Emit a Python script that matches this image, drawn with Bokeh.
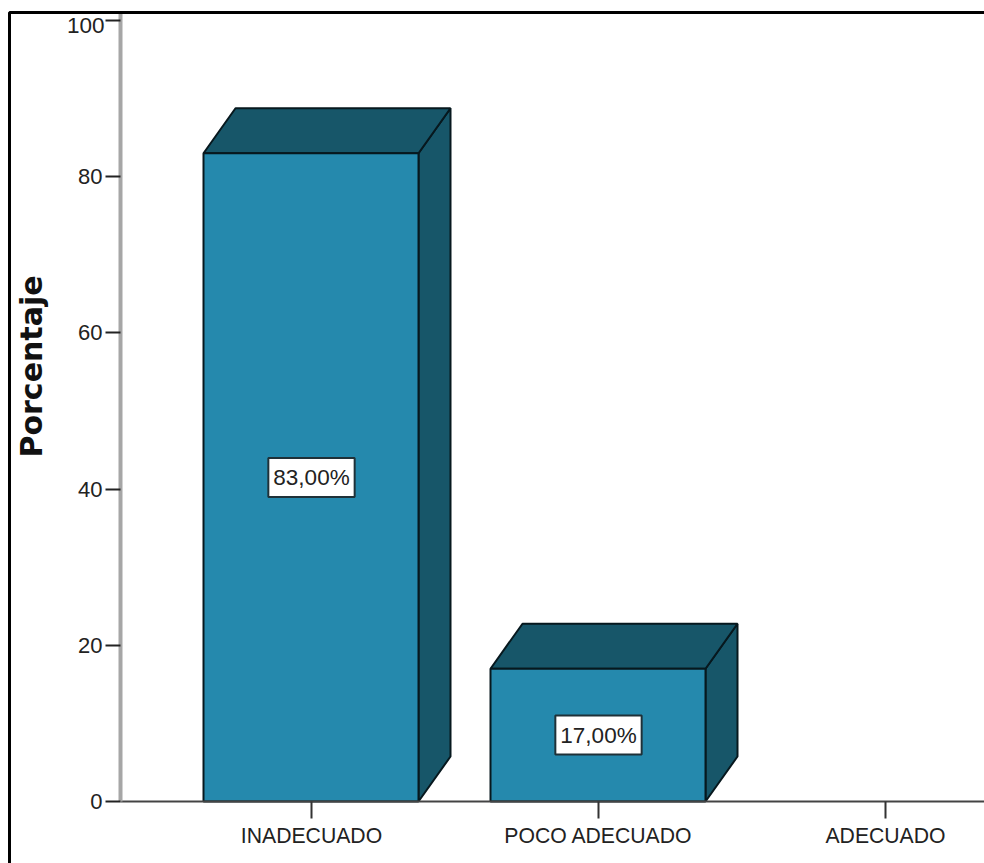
from math import pi

from bokeh.embed import file_html
from bokeh.models import BoxAnnotation, FixedTicker, Label, Range1d
from bokeh.plotting import figure
from bokeh.resources import INLINE
from bokeh.core.properties import value

categories = ["INADECUADO", "POCO ADECUADO", "ADECUADO"]
percentages = [83.0, 17.0, 0.0]
y_ticks = [0, 20, 40, 60, 80, 100]
bar_labels = ["83,00%", "17,00%", ""]

FRONT = "#2589ad"
SHADE = "#175669"
EDGE = "#07181e"
FONT = "Liberation Sans"

# The frame fills the canvas; these helpers turn canvas pixels into data values
WIDTH, HEIGHT = 984, 863
PX_PER_CAT = 287.0
PX_PER_PCT = 7.81
FIRST_CAT_PX = 311
BASELINE_PX = 801


def cx(px):
    return (px - FIRST_CAT_PX) / PX_PER_CAT


def cy(px):
    return (BASELINE_PX - px) / PX_PER_PCT


half_bar = 107.5 / PX_PER_CAT
bar_shift = -0.5 / PX_PER_CAT
depth_x = 32 / PX_PER_CAT
depth_y = 45 / PX_PER_PCT
axis_x = cx(120)

p = figure(
    width=WIDTH, height=HEIGHT, output_backend="svg", toolbar_location=None,
    x_range=Range1d(cx(0), cx(WIDTH)), y_range=Range1d(cy(HEIGHT), cy(0)),
    min_border_left=0, min_border_right=0, min_border_top=0, min_border_bottom=0,
    outline_line_color=None, background_fill_color="white", border_fill_color="white",
)
p.grid.visible = False

# Vertical axis: grey line with dark ticks; the top label sits just under the frame
p.yaxis.fixed_location = axis_x
p.yaxis.bounds = (0, cy(12))
p.yaxis.ticker = FixedTicker(ticks=y_ticks)
p.yaxis.major_label_overrides = {y_ticks[-1]: " "}
p.yaxis.axis_line_color = "#a6a6a6"
p.yaxis.axis_line_width = 4
p.yaxis.major_tick_line_color = "#222222"
p.yaxis.major_tick_line_width = 2
p.yaxis.major_tick_out = 15
p.yaxis.major_tick_in = 0
p.yaxis.minor_tick_line_color = None
p.yaxis.major_label_standoff = 3
p.yaxis.major_label_text_font = FONT
p.yaxis.major_label_text_font_size = "22px"
p.yaxis.major_label_text_color = "#222222"

p.add_layout(Label(
    x=axis_x, y=y_ticks[-1], text=str(y_ticks[-1]), x_offset=-16, y_offset=-5,
    text_align="right", text_baseline="middle",
    text_font=FONT, text_font_size="22.5px", text_color="#222222",
))
p.add_layout(Label(
    x=cx(31), y=cy(366), text="Porcentaje", angle=pi / 2,
    text_align="center", text_baseline="alphabetic",
    text_font="DejaVu Sans", text_font_style="bold", text_font_size="30px", text_color="#111111",
))

# Category axis
p.xaxis.fixed_location = 0
p.xaxis.bounds = (axis_x, cx(WIDTH))
p.xaxis.ticker = FixedTicker(ticks=list(range(len(categories))))
p.xaxis.major_label_overrides = {i: c for i, c in enumerate(categories)}
p.xaxis.axis_line_color = "#444444"
p.xaxis.axis_line_width = 2
p.xaxis.major_tick_line_color = "#333333"
p.xaxis.major_tick_line_width = 2
p.xaxis.major_tick_out = 17
p.xaxis.major_tick_in = 0
p.xaxis.minor_tick_line_color = None
p.xaxis.major_label_standoff = 5
p.xaxis.major_label_text_font = FONT
p.xaxis.major_label_text_font_size = "21.2px"
p.xaxis.major_label_text_color = "#222222"

# Bars with a drawn depth: right side, top, then the front face
for i, v in enumerate(percentages):
    if v <= 0:
        continue
    x0, x1 = i - half_bar + bar_shift, i + half_bar + bar_shift
    p.patch([x1, x1 + depth_x, x1 + depth_x, x1], [0, depth_y, v + depth_y, v],
            fill_color=SHADE, line_color=EDGE, line_width=2)
    p.patch([x0, x0 + depth_x, x1 + depth_x, x1], [v, v + depth_y, v + depth_y, v],
            fill_color=SHADE, line_color=EDGE, line_width=2)
    p.quad(left=x0, right=x1, bottom=0, top=v,
           fill_color=FRONT, line_color=EDGE, line_width=2)
    p.text(x=[i], y=[v / 2], text=[bar_labels[i]],
           text_font=value(FONT), text_font_size="22.5px", text_color="#222222",
           text_align="center", text_baseline="middle",
           background_fill_color="white", border_line_color="#1f3138", border_line_width=2,
           padding=(5, 7))

# Black frame around the chart, open past the right and bottom edges
p.add_layout(BoxAnnotation(
    left=cx(9), right=cx(WIDTH + 20), top=cy(12), bottom=cy(HEIGHT + 20),
    fill_color=None, line_color="black", line_alpha=1, line_width=3, level="overlay",
))

open("out.html", "w").write(file_html(p, INLINE))
